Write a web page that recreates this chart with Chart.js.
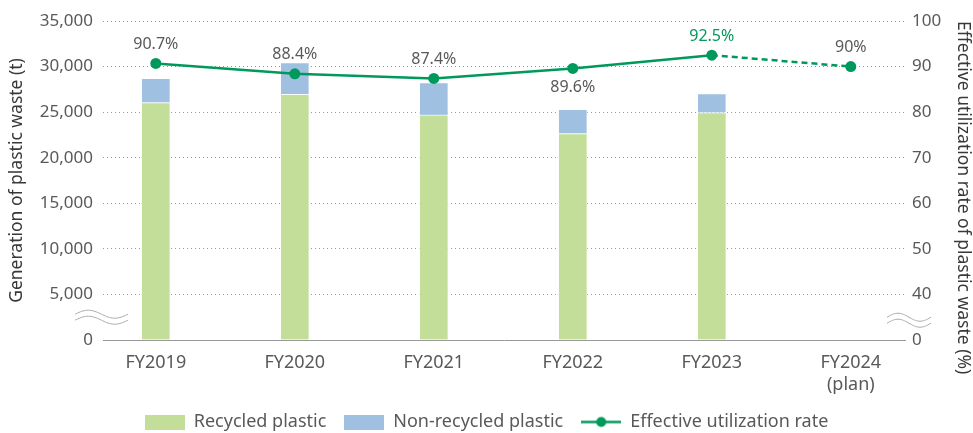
<!DOCTYPE html>
<html><head><meta charset="utf-8">
<script src="https://cdn.jsdelivr.net/npm/chart.js@4.4.0/dist/chart.umd.min.js"></script>
<style>html,body{margin:0;padding:0;background:#fff}#wrap{width:973px;height:433px}</style>
</head><body><div id="wrap"><canvas id="c" width="973" height="433"></canvas></div>
<script>
// ---- data ----
const categories = ['FY2019', 'FY2020', 'FY2021', 'FY2022', 'FY2023', ['FY2024', '(plan)']];
const recycled = [26050, 26950, 24700, 22650, 24950, null];
const nonRecycled = [2650, 3500, 3550, 2650, 2100, null];
const utilization = [90.7, 88.4, 87.4, 89.6, 92.5, 90];
const utilizationLabels = ['90.7%', '88.4%', '87.4%', '89.6%', '92.5%', '90%'];
const leftTickValues = [0, 5000, 10000, 15000, 20000, 25000, 30000, 35000];
const rightTickValues = [30, 40, 50, 60, 70, 80, 90, 100];
const rightTickLabels = ['0', '40', '50', '60', '70', '80', '90', '100'];
const legendNames = ['Recycled plastic', 'Non-recycled plastic', 'Effective utilization rate'];
const labelsBelow = [3];      // label drawn under the point
const highlighted = [4];      // label drawn in green
const planStart = 5;          // segment to this index is dashed

// ---- styles ----
const GREEN = '#00995c', BAR_G = '#c3de98', BAR_B = '#9fc0e1', TXT = '#595959';
Chart.defaults.font.family = '"Noto Sans", sans-serif';
Chart.defaults.font.size = 16;
Chart.defaults.color = TXT;

function mk(w, h, draw) { const c = document.createElement('canvas'); c.width = w; c.height = h; draw(c.getContext('2d')); return c; }
const icoG = mk(40, 15, g => { g.fillStyle = BAR_G; g.fillRect(0, 0, 40, 15); });
const icoB = mk(40, 15, g => { g.fillStyle = BAR_B; g.fillRect(0, 0, 40, 15); });
const icoL = mk(40, 15, g => { g.strokeStyle = GREEN; g.lineWidth = 2.5; g.beginPath(); g.moveTo(0, 7.5); g.lineTo(40, 7.5); g.stroke(); g.fillStyle = GREEN; g.beginPath(); g.arc(20, 7.5, 5, 0, Math.PI * 2); g.fill(); });

const labelPlugin = {
  id: 'ptlabels',
  afterDatasetsDraw(chart) {
    const ctx = chart.ctx, meta = chart.getDatasetMeta(2);
    ctx.save();
    ctx.font = '16px "Noto Sans", sans-serif';
    ctx.textAlign = 'center'; ctx.textBaseline = 'middle';
    meta.data.forEach((pt, i) => {
      const dy = labelsBelow.includes(i) ? 19 : -19;
      ctx.fillStyle = highlighted.includes(i) ? GREEN : TXT;
      ctx.fillText(utilizationLabels[i], pt.x, pt.y + dy);
    });
    ctx.restore();
  }
};
const breakPlugin = {
  id: 'breaks',
  afterDraw(chart) {
    const ctx = chart.ctx, a = chart.chartArea, y = chart.scales.y;
    const cy = (y.getPixelForValue(0) + y.getPixelForValue(5000)) / 2;
    function wave(x0, x1, c) {
      for (const off of [-3, 3]) {
        ctx.beginPath();
        for (let k = 0; k <= 40; k++) {
          const t = k / 40, x = x0 + (x1 - x0) * t, yy = c + off - 4 * Math.sin(2 * Math.PI * t);
          k ? ctx.lineTo(x, yy) : ctx.moveTo(x, yy);
        }
        ctx.stroke();
      }
    }
    ctx.save(); ctx.strokeStyle = '#aaa'; ctx.lineWidth = 1;
    wave(a.left - 28, a.left + 25, cy);
    wave(a.right - 18, a.right + 26, cy + 3);
    ctx.restore();
  }
};

new Chart(document.getElementById('c'), {
  data: {
    datasets: [
      { type: 'bar', label: legendNames[0], data: recycled.map((v, i) => ({ x: i, y: v })), backgroundColor: BAR_G, borderColor: 'rgba(255,255,255,0.7)', borderWidth: 1, barThickness: 29, stack: 's', yAxisID: 'y', order: 1 },
      { type: 'bar', label: legendNames[1], data: nonRecycled.map((v, i) => ({ x: i, y: v })), backgroundColor: BAR_B, borderColor: 'rgba(255,255,255,0.7)', borderWidth: 1, barThickness: 29, stack: 's', yAxisID: 'y', order: 1 },
      { type: 'line', label: legendNames[2], data: utilization.map((v, i) => ({ x: i, y: v })), borderColor: GREEN, backgroundColor: GREEN, borderWidth: 2.5, pointRadius: 5.5, pointBackgroundColor: GREEN, pointBorderWidth: 0, tension: 0, yAxisID: 'y1', order: 0,
        segment: { borderDash: c => c.p1DataIndex === planStart ? [6, 4] : undefined } }
    ]
  },
  options: {
    responsive: false, animation: false, devicePixelRatio: 1,
    layout: { padding: { top: 21, left: 0, right: 0, bottom: -8 } },
    plugins: {
      tooltip: { enabled: false },
      legend: {
        position: 'bottom',
        labels: {
          usePointStyle: true, pointStyleWidth: 40, boxHeight: 15, padding: 18, color: TXT, font: { size: 18 },
          generateLabels: () => [icoG, icoB, icoL].map((ic, i) => ({ text: legendNames[i], pointStyle: ic, fillStyle: 'transparent', strokeStyle: 'transparent', lineWidth: 0, hidden: false, datasetIndex: i, fontColor: TXT }))
        }
      }
    },
    scales: {
      x: {
        type: 'linear', min: -0.38, max: 5.39, offset: false,
        afterBuildTicks: s => { s.ticks = categories.map((c, i) => ({ value: i })); },
        afterFit: s => { s.height = 55; },
        ticks: { callback: (v) => categories[v], padding: 12, color: TXT, font: { size: 18 }, maxRotation: 0, autoSkip: false },
        grid: { display: false, drawTicks: false },
        border: { display: true, color: '#999', width: 1 }
      },
      y: {
        position: 'left', stacked: true, min: 0, max: 35000,
        afterBuildTicks: s => { s.ticks = leftTickValues.map(v => ({ value: v })); },
        afterFit: s => { s.width = 103; },
        ticks: { padding: 10, color: TXT, font: { size: 17 }, callback: v => v.toLocaleString('en-US') },
        grid: { drawTicks: false, color: c => c.tick && c.tick.value === 0 ? 'rgba(0,0,0,0)' : '#9a9a9a', lineWidth: 1 },
        border: { display: false, dash: [1, 3] },
        title: { display: true, text: 'Generation of plastic waste (t)', color: '#383838', font: { size: 17.5 }, padding: { top: 7, bottom: 0 } }
      },
      y1: {
        position: 'right', min: 30, max: 100,
        afterBuildTicks: s => { s.ticks = rightTickValues.map(v => ({ value: v })); },
        afterFit: s => { s.width = 68; },
        ticks: { padding: 7, color: TXT, font: { size: 17 }, callback: v => rightTickLabels[rightTickValues.indexOf(v)] },
        grid: { display: false, drawTicks: false },
        border: { display: false },
        title: { display: true, align: 'end', text: 'Effective utilization rate of plastic waste (%)', color: '#383838', font: { size: 17.5 }, padding: { top: 0, bottom: 0 } }
      }
    }
  },
  plugins: [labelPlugin, breakPlugin]
});
</script></body></html>
